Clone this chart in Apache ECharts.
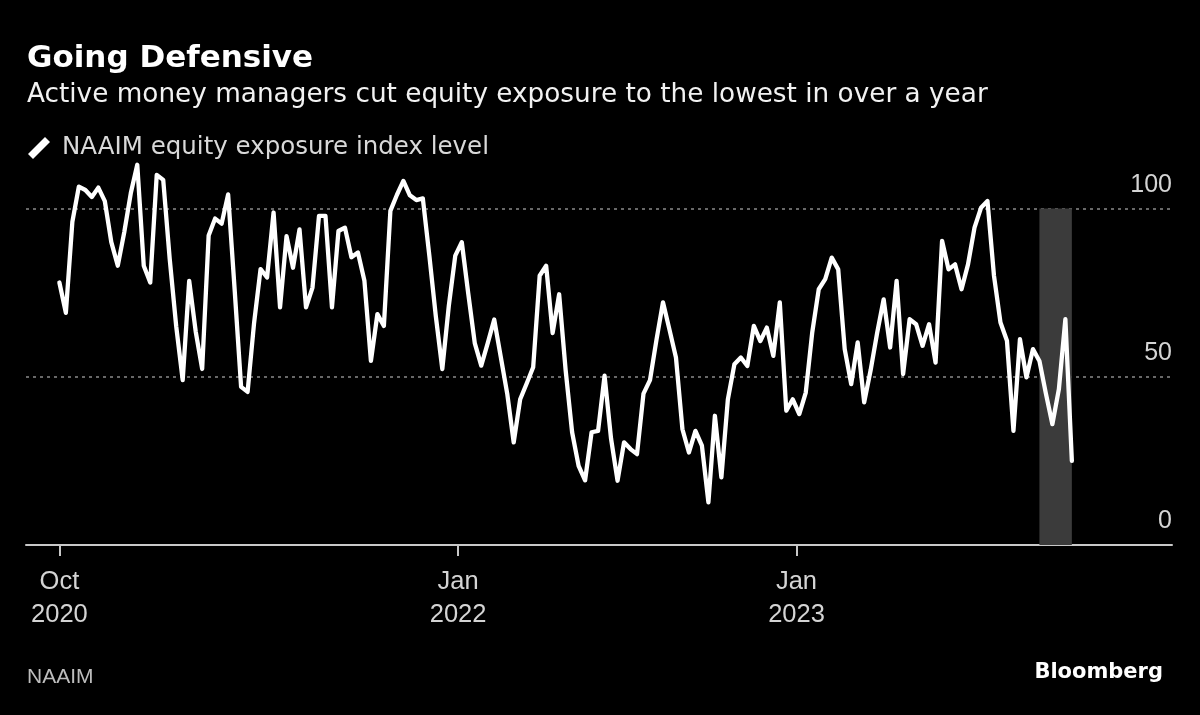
<!DOCTYPE html>
<html>
<head>
<meta charset="utf-8">
<script src="https://cdn.jsdelivr.net/npm/echarts@6/dist/echarts.min.js"></script>
<style>
html,body{margin:0;padding:0;background:#000;}
#chart{width:1200px;height:715px;}
</style>
</head>
<body>
<div id="chart"></div>
<script>
// ---- data ----
const titleText = 'Going Defensive';
const subtitleText = 'Active money managers cut equity exposure to the lowest in over a year';
const seriesName = 'NAAIM equity exposure index level';
const sourceText = 'NAAIM';
const brandText = 'Bloomberg';

const firstWeek = '2020-10-28';   // weekly observations (Wednesdays)
const naaimValues = [
  78, 69, 96, 106.5, 105.5, 103.4, 106.2, 102.2, 90, 83,
  93, 104.5, 113, 83, 78, 110, 108.5, 85, 65, 49,
  78.5, 63.5, 52.3, 92, 97, 95.5, 104.2, 76, 47, 45.5,
  66, 82, 79.5, 98.8, 70.6, 91.8, 82.4, 93.8, 70.6, 76.5,
  97.8, 97.8, 70.6, 93.3, 94.3, 85.5, 86.9, 78.5, 54.7, 68.6,
  65.1, 99.3, 104, 108.2, 103.9, 102.5, 103, 86, 68, 52.3,
  71, 86, 90, 74.7, 60, 53.3, 60, 67, 56, 45,
  30.5, 43.3, 48, 52.8, 80, 83, 63, 74.5, 52, 33.5,
  23.5, 19.2, 33.5, 33.9, 50.3, 31.6, 19.1, 30.5, 28.5, 27,
  45, 49, 61, 72.1, 64, 55.7, 34.4, 27.5, 33.9, 29.5,
  12.7, 38.4, 20.1, 43.3, 53.7, 55.7, 53.2, 65.1, 60.6, 64.6,
  56.2, 72.1, 39.9, 43.3, 38.9, 45.3, 63.2, 76, 79, 85.4,
  81.9, 58.2, 47.8, 60.2, 42.4, 52, 63, 73, 58.7, 78.5,
  50.8, 67.1, 65.6, 59.2, 65.6, 54.2, 90.4, 81.9, 83.4, 76,
  83.4, 94.3, 100.2, 102.2, 80, 66.1, 60.7, 33.9, 61.2, 49.8,
  58.2, 54.7, 45, 35.9, 46.3, 67.1, 25
];
const xTickDates = ['2020-10-28', '2022-01-01', '2023-01-01'];
const xTickLabels = ['Oct\n2020', 'Jan\n2022', 'Jan\n2023'];
const shadeStart = '2023-09-20';
const shadeEnd = '2023-10-25';
const shadeTop = 100;
const xMinDate = '2020-09-22';
const xMaxDate = '2024-02-10';

// ---- build ----
const DAY = 86400000;
function ts(s) { const p = s.split('-').map(Number); return Date.UTC(p[0], p[1] - 1, p[2]); }
const t0 = ts(firstWeek);
const lineData = naaimValues.map((v, i) => [t0 + i * 7 * DAY, v]);
const xTickTs = xTickDates.map(ts);

const chart = echarts.init(document.getElementById('chart'), null, { renderer: 'canvas' });
const FONT = '"Liberation Sans", Arial, sans-serif';
const DV = '"DejaVu Sans", sans-serif';

chart.setOption({
  backgroundColor: '#000000',
  animation: false,
  title: [
    { text: titleText, left: 27, top: 43, padding: 0,
      textStyle: { color: '#ffffff', fontFamily: DV, fontWeight: 'bold', fontSize: 31, lineHeight: 31 } },
    { text: subtitleText, left: 27, top: 82, padding: 0,
      textStyle: { color: '#f2f2f2', fontFamily: DV, fontWeight: 'normal', fontSize: 26.3, lineHeight: 27 } },
    { text: sourceText, left: 27, top: 666, padding: 0,
      textStyle: { color: '#bdbdbd', fontFamily: FONT, fontWeight: 'normal', fontSize: 21, lineHeight: 22 } },
    { text: brandText, right: 37, top: 661, padding: 0,
      textStyle: { color: '#ffffff', fontFamily: DV, fontWeight: 'bold', fontSize: 21, lineHeight: 24 } }
  ],
  legend: {
    left: 28, top: 135.5, padding: 0,
    itemWidth: 22, itemHeight: 22,
    icon: 'path://M17,0 L22,5 L5,22 L0,17 Z',
    data: [seriesName],
    textStyle: { color: '#d9d9d9', fontFamily: DV, fontSize: 24.5, padding: [0, 0, 0, 7] }
  },
  grid: { left: 26, right: 28, top: 158, bottom: 170, containLabel: false },
  xAxis: {
    type: 'value',
    min: ts(xMinDate), max: ts(xMaxDate),
    axisLine: { show: true, lineStyle: { color: '#c8c8c8', width: 2 } },
    axisTick: { show: true, customValues: xTickTs, length: 11, lineStyle: { color: '#c8c8c8', width: 2 } },
    axisLabel: {
      customValues: xTickTs,
      color: '#d4d4d4', fontFamily: FONT, fontSize: 25.5, lineHeight: 33, margin: 20,
      formatter: function (v) {
        let best = 0, bd = Infinity;
        xTickTs.forEach((t, i) => { const d = Math.abs(t - v); if (d < bd) { bd = d; best = i; } });
        return xTickLabels[best];
      }
    },
    splitLine: { show: false }
  },
  yAxis: {
    type: 'value', position: 'right',
    min: 0, max: 115, interval: 50,
    axisLine: { show: false }, axisTick: { show: false },
    axisLabel: {
      inside: true, margin: 0, color: '#d4d4d4', fontFamily: FONT, fontSize: 25,
      lineHeight: 26, verticalAlign: 'bottom', padding: [0, 0, 10.5, 0],
      showMaxLabel: false,
      formatter: function (v) { return v % 50 === 0 ? String(v) : ''; }
    },
    splitLine: { show: true, showMaxLine: false, showMinLine: false,
      lineStyle: { color: '#8a8a8a', width: 1.5, type: [3, 4] } }
  },
  series: [
    {
      name: 'shade', type: 'line', data: [], z: 1, silent: true,
      markArea: {
        silent: true,
        itemStyle: { color: '#3b3b3b' },
        data: [[{ xAxis: ts(shadeStart), yAxis: 0 }, { xAxis: ts(shadeEnd), yAxis: shadeTop }]]
      }
    },
    {
      name: seriesName, type: 'line', data: lineData, z: 5,
      showSymbol: false, smooth: false,
      color: '#ffffff',
      lineStyle: { color: '#ffffff', width: 4.3, join: 'round', cap: 'round' }
    }
  ]
});
</script>
</body>
</html>
